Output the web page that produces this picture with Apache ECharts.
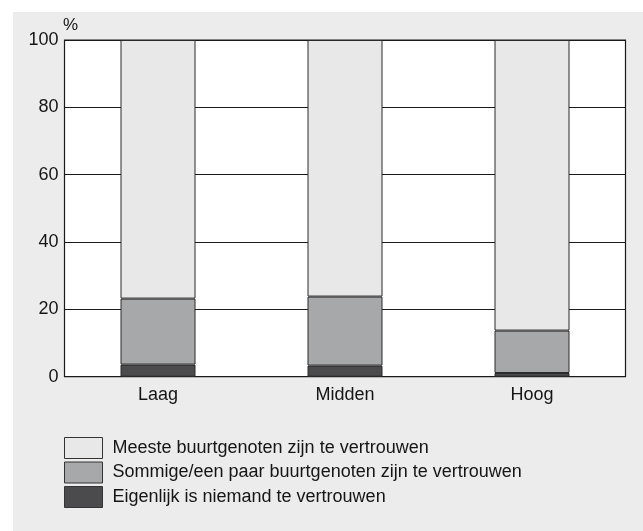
<!DOCTYPE html>
<html><head><meta charset="utf-8">
<script src="https://cdn.jsdelivr.net/npm/echarts@6/dist/echarts.min.js"></script>
<style>html,body{margin:0;padding:0;background:#fff}#c{width:643px;height:531px}</style>
</head><body><div id="c"></div>
<script>
const categories = ['Laag', 'Midden', 'Hoog'];
const niemand = [3.6, 3.3, 1.1];
const sommige = [19.6, 20.5, 12.6];
const meeste = [76.8, 76.2, 86.3];
const yTicks = [0, 20, 40, 60, 80, 100];
const seriesNames = ['Meeste buurtgenoten zijn te vertrouwen', 'Sommige/een paar buurtgenoten zijn te vertrouwen', 'Eigenlijk is niemand te vertrouwen'];

const chart = echarts.init(document.getElementById('c'), null, {renderer: 'canvas'});
const font = 'Liberation Sans, Arial, Helvetica, sans-serif';
const txt = '#151515';
const barStyle = (color) => ({color: color, borderColor: '#2a2a2a', borderWidth: 1});
chart.setOption({
  animation: false,
  graphic: [
    {type: 'rect', z: -10, shape: {x: 13, y: 12, width: 630, height: 519}, style: {fill: '#ececec'}},
    {type: 'text', left: 63, top: 17, style: {text: '%', font: '17px ' + font, fill: txt}}
  ],
  grid: {left: 64.5, right: 17.5, top: 40, bottom: 154.3, show: true, backgroundColor: '#fff', borderColor: '#1a1a1a', borderWidth: 1.2},
  legend: {
    orient: 'vertical', left: 64, top: 437, padding: 0, itemWidth: 38, itemHeight: 21, itemGap: 2.5,
    icon: 'rect',
    data: seriesNames,
    itemStyle: {borderColor: '#333', borderWidth: 1},
    textStyle: {fontFamily: font, fontSize: 18, color: txt, padding: [0, 0, 0, 5]}
  },
  xAxis: {
    type: 'category', data: categories,
    axisLine: {show: false}, axisTick: {show: false},
    axisLabel: {fontFamily: font, fontSize: 18, color: txt, margin: 9}
  },
  yAxis: {
    type: 'value', min: 0, max: 100, interval: 20,
    axisLine: {show: false}, axisTick: {show: false},
    axisLabel: {fontFamily: font, fontSize: 18, color: txt, margin: 6,
      formatter: v => yTicks.includes(v) ? String(v) : ''},
    splitLine: {lineStyle: {color: '#1a1a1a', width: 1.2}}
  },
  series: [
    {name: seriesNames[2], type: 'bar', stack: 's', barWidth: 75, data: niemand, itemStyle: barStyle('#4b4b4d')},
    {name: seriesNames[1], type: 'bar', stack: 's', barWidth: 75, data: sommige, itemStyle: barStyle('#a7a8aa')},
    {name: seriesNames[0], type: 'bar', stack: 's', barWidth: 75, data: meeste, itemStyle: barStyle('#e8e8e8')}
  ]
});
</script></body></html>
